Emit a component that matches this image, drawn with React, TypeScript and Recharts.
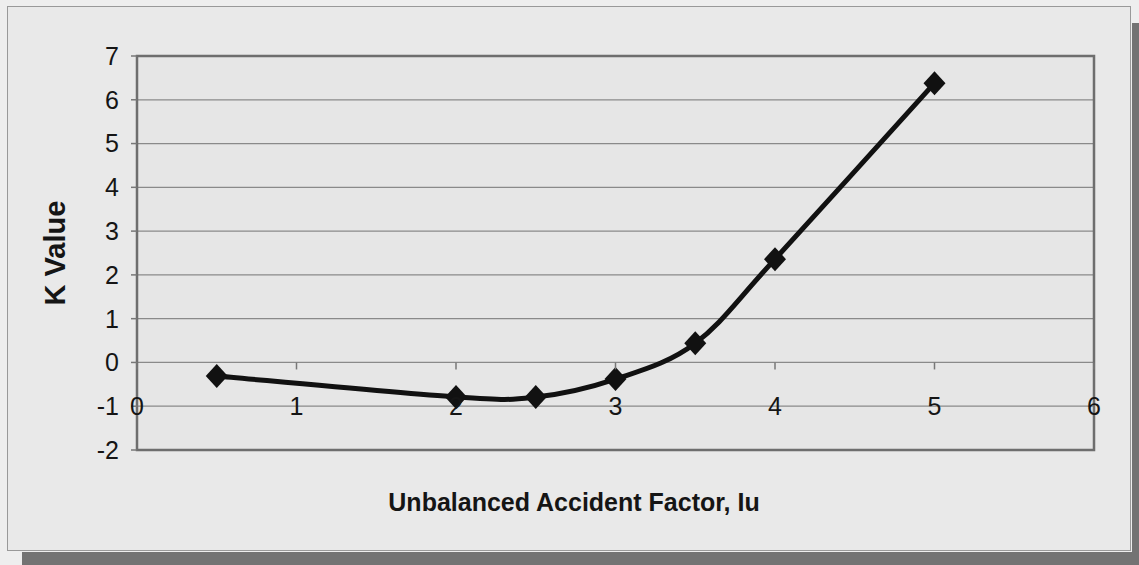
import { LineChart, Line, XAxis, YAxis, CartesianGrid, ReferenceArea } from 'recharts'

// Unbalanced accident factor vs K value
const iuValues = [0.5, 2, 2.5, 3, 3.5, 4, 5]
const kValues = [-0.31, -0.79, -0.79, -0.38, 0.44, 2.36, 6.38]
const xTicks = [0, 1, 2, 3, 4, 5, 6]
const yTicks = [-2, -1, 0, 1, 2, 3, 4, 5, 6, 7]

const W = 1139
const H = 565
const PLOT_TOP = 56
const PLOT_BOTTOM = 450
const PLOT_LEFT = 137
const PLOT_RIGHT = 1094
const FONT = '"Liberation Sans", Arial, sans-serif'

const data = iuValues.map((x, i) => ({ x, k: kValues[i] }))

const unitPx = (PLOT_BOTTOM - PLOT_TOP) / (yTicks[yTicks.length - 1] - yTicks[0])

// smoothed line like Excel's (catmull-rom style bezier)
const smoothCurve = (context: any) => {
  let pts: number[][] = []
  return {
    areaStart() {},
    areaEnd() {},
    lineStart() { pts = [] },
    point(x: number, y: number) { pts.push([+x, +y]) },
    lineEnd() {
      if (!pts.length) return
      context.moveTo(pts[0][0], pts[0][1])
      for (let i = 0; i < pts.length - 1; i++) {
        const p0 = pts[i - 1] || pts[i]
        const p1 = pts[i]
        const p2 = pts[i + 1]
        const p3 = pts[i + 2] || p2
        context.bezierCurveTo(
          p1[0] + (p2[0] - p0[0]) / 6, p1[1] + (p2[1] - p0[1]) / 6,
          p2[0] - (p3[0] - p1[0]) / 6, p2[1] - (p3[1] - p1[1]) / 6,
          p2[0], p2[1],
        )
      }
    },
  }
}

// Excel puts the category axis through y=0, labels sit one unit lower
const XTick = ({ x, payload }: any) => {
  const zeroY = PLOT_BOTTOM + yTicks[0] * unitPx
  return (
    <g>
      <line x1={x} x2={x} y1={zeroY} y2={zeroY + 7} stroke="#777" strokeWidth={1.5} />
      <text x={x} y={zeroY + unitPx} textAnchor="middle" dominantBaseline="central"
        fontFamily={FONT} fontSize={25} fill="#151515">
        {payload.value}
      </text>
    </g>
  )
}

const Diamond = ({ cx, cy }: any) => {
  if (cx == null || cy == null) return null
  return <polygon points={`${cx},${cy - 12} ${cx + 11},${cy} ${cx},${cy + 12} ${cx - 11},${cy}`} fill="#111" />
}

export default function App() {
  return (
    <div style={{ position: 'fixed', left: 0, top: 0, width: W, height: H, background: '#eeeeee', overflow: 'hidden' }}>
      <div style={{
        position: 'absolute', left: 7, top: 6, width: 1122, height: 543,
        border: '1px solid #999', background: '#e9e9e9',
      }} />
      <div style={{ position: 'absolute', left: 1132, top: 23, width: 7, height: 542, background: '#737373' }} />
      <div style={{ position: 'absolute', left: 22, top: 552, width: 1117, height: 13, background: '#737373' }} />
      <div style={{ position: 'absolute', left: 0, top: 0 }}>
        <LineChart width={W} height={H} data={data}
          margin={{ top: PLOT_TOP, right: W - PLOT_RIGHT, bottom: 0, left: 0 }}>
          <CartesianGrid vertical={false} stroke="#8a8a8a" strokeWidth={1.2} fill="#e6e6e6" />
          <XAxis dataKey="x" type="number" domain={[0, 6]} ticks={xTicks} interval={0}
            axisLine={false} tickLine={false} tickSize={0} tickMargin={0} height={H - PLOT_BOTTOM}
            tick={<XTick />}
            label={{
              content: () => (
                <text x={574} y={502} textAnchor="middle" dominantBaseline="central"
                  fontFamily={FONT} fontSize={25} fontWeight="bold" fill="#151515">
                  Unbalanced Accident Factor, Iu
                </text>
              ),
            }} />
          <YAxis type="number" domain={[-2, 7]} ticks={yTicks} interval={0} width={PLOT_LEFT}
            axisLine={false} tickLine={{ stroke: '#777', strokeWidth: 1.5 }} tickSize={6} tickMargin={12}
            tick={{ fontFamily: FONT, fontSize: 25, fill: '#151515' }}
            label={{
              content: () => (
                <text x={55} y={253} textAnchor="middle" dominantBaseline="central"
                  transform="rotate(-90, 55, 253)"
                  fontFamily={FONT} fontSize={29} fontWeight="bold" fill="#151515">
                  K Value
                </text>
              ),
            }} />
          <ReferenceArea x1={0} x2={6} y1={-2} y2={7} fill="none" stroke="#6e6e6e" strokeWidth={2.5} ifOverflow="visible" />
          <Line dataKey="k" type={smoothCurve as any} stroke="#111" strokeWidth={5}
            dot={<Diamond />} activeDot={false} isAnimationActive={false} />
        </LineChart>
      </div>
    </div>
  )
}
